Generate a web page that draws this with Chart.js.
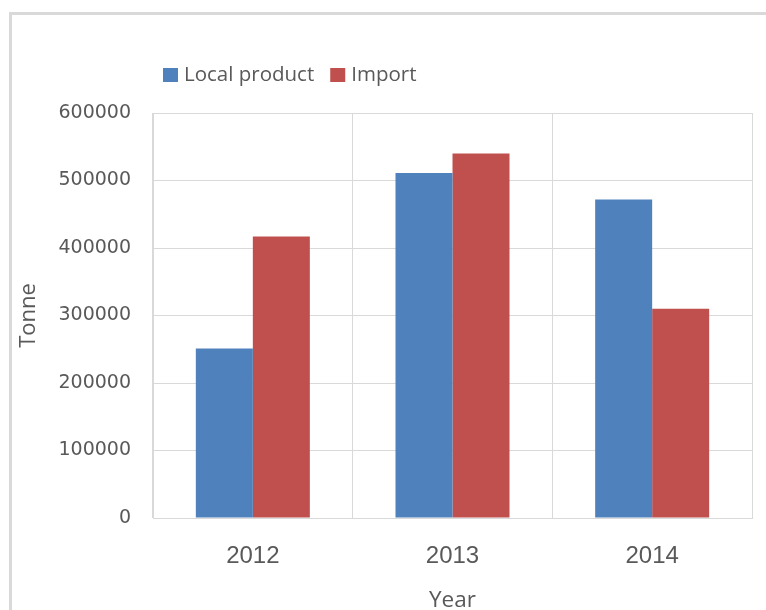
<!DOCTYPE html>
<html>
<head>
<meta charset="utf-8">
<script src="https://cdn.jsdelivr.net/npm/chart.js@4/dist/chart.umd.min.js"></script>
<style>
  html, body { margin: 0; padding: 0; background: #ffffff; overflow: hidden; width: 766px; height: 610px; }
  #wrap { width: 766px; height: 640px; }
</style>
</head>
<body>
<div id="wrap"><canvas id="c" width="766" height="640"></canvas></div>
<script>
const categories = ['2012', '2013', '2014'];
const localProduct = [251000, 511000, 472000];
const importValues = [417000, 540000, 310000];
const seriesNames = ['Local product', 'Import'];
const yTicks = [0, 100000, 200000, 300000, 400000, 500000, 600000];
const yTitle = 'Tonne';
const xTitle = 'Year';

const TEXT = '#595959';
const GRID = '#d9d9d9';

const frame = {
  id: 'frame',
  beforeDraw(chart) {
    const ctx = chart.ctx;
    ctx.save();
    ctx.fillStyle = '#ffffff';
    ctx.fillRect(0, 0, chart.width, chart.height);
    ctx.strokeStyle = GRID;
    ctx.lineWidth = 3;
    ctx.beginPath();
    ctx.moveTo(10.5, chart.height + 5);
    ctx.lineTo(10.5, 13.5);
    ctx.lineTo(chart.width + 5, 13.5);
    ctx.stroke();
    ctx.restore();
  }
};

const topLegend = {
  id: 'topLegend',
  afterDraw(chart) {
    const ctx = chart.ctx;
    ctx.save();
    ctx.font = '20.5px "Open Sans"';
    ctx.textBaseline = 'middle';
    ctx.textAlign = 'left';
    let x = 163;
    const y = 75;
    chart.data.datasets.forEach(ds => {
      ctx.fillStyle = ds.backgroundColor;
      ctx.fillRect(x, y - 7, 15, 14);
      ctx.fillStyle = TEXT;
      ctx.fillText(ds.label, x + 21, y + 0.5);
      x += 21 + ctx.measureText(ds.label).width + 16;
    });
    ctx.restore();
  }
};

new Chart(document.getElementById('c'), {
  type: 'bar',
  data: {
    labels: categories,
    datasets: [
      { label: seriesNames[0], data: localProduct, backgroundColor: '#4F81BD', borderWidth: 0 },
      { label: seriesNames[1], data: importValues, backgroundColor: '#C0504D', borderWidth: 0 }
    ]
  },
  options: {
    responsive: false,
    animation: false,
    devicePixelRatio: 1,
    categoryPercentage: 0.571,
    barPercentage: 1,
    layout: { padding: { left: 12, right: 14, top: 113, bottom: 26 } },
    plugins: {
      legend: { display: false },
      tooltip: { enabled: false },
      title: { display: false }
    },
    scales: {
      x: {
        grid: { color: GRID, lineWidth: 1, drawTicks: false, offset: true },
        border: { color: GRID, width: 1 },
        ticks: { color: TEXT, font: { family: '"Liberation Sans", Arial', size: 24 }, padding: 24, maxRotation: 0 },
        title: { display: true, text: xTitle, color: TEXT, font: { family: '"Open Sans"', size: 22.5 }, padding: 0 },
        afterFit(scale) { scale.height = 96; }
      },
      y: {
        min: 0,
        max: 600000,
        afterBuildTicks(scale) { scale.ticks = yTicks.map(v => ({ value: v })); },
        grid: { color: GRID, lineWidth: 1, drawTicks: false },
        border: { color: GRID, width: 1 },
        ticks: { color: TEXT, font: { family: '"DejaVu Sans"', size: 19 }, padding: 22, callback: v => String(v) },
        title: { display: true, text: yTitle, color: TEXT, font: { family: '"Open Sans"', size: 22 }, padding: { top: 4, bottom: 0 } },
        afterFit(scale) { scale.width = 141; }
      }
    }
  },
  plugins: [frame, topLegend]
});
</script>
</body>
</html>
